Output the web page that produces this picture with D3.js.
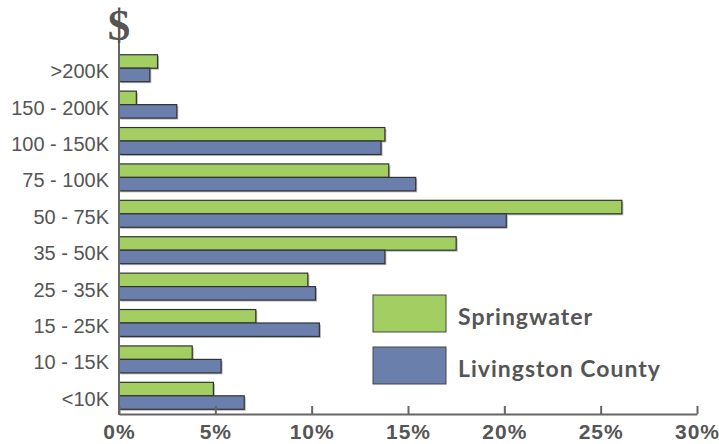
<!DOCTYPE html>
<html>
<head>
<meta charset="utf-8">
<script src="https://cdn.jsdelivr.net/npm/d3@7"></script>
<style>
  body { margin: 0; background: #fff; }
  svg { display: block; font-family: Lato, "Open Sans", sans-serif; }
  .bar { stroke: #333; stroke-width: 1.2; }
  .shadow { fill: #b5b5b5; }
  .x-axis text { font-size: 21px; font-weight: bold; fill: #555; letter-spacing: 1px; }
  .y-axis text { font-size: 20px; fill: #555; }
  .legend text { font-size: 23px; font-weight: bold; fill: #555; letter-spacing: 1px; }
</style>
</head>
<body>
<svg id="chart" width="719" height="444"></svg>
<script>
// income brackets, top to bottom
var categories = ['>200K', '150 - 200K', '100 - 150K', '75 - 100K', '50 - 75K',
                  '35 - 50K', '25 - 35K', '15 - 25K', '10 - 15K', '<10K'];
// percent of households
var springwater = [2.0, 0.9, 13.8, 14.0, 26.1, 17.5, 9.8, 7.1, 3.8, 4.9];
var livingston  = [1.6, 3.0, 13.6, 15.4, 20.1, 13.8, 10.2, 10.4, 5.3, 6.5];
var seriesNames = ['Springwater', 'Livingston County'];
var xTicks = [0, 5, 10, 15, 20, 25, 30];

var colors = { 'Springwater': '#a3cf62', 'Livingston County': '#6b7fad' };

var svg = d3.select('#chart');

var x = d3.scaleLinear().domain([0, 30]).range([119, 697]);
var y = d3.scaleBand().domain(categories).range([50, 414])
  .paddingInner(0.26).paddingOuter(0.13);
var sub = d3.scaleBand().domain(seriesNames).range([0, y.bandwidth()]);

var rows = categories.map(function(c, i) {
  return { cat: c, values: [
    { name: 'Springwater', v: springwater[i] },
    { name: 'Livingston County', v: livingston[i] }
  ]};
});

var groups = svg.selectAll('g.row')
  .data(rows)
  .enter()
  .append('g')
  .attr('class', 'row')
  .attr('transform', function(d) { return 'translate(0,' + y(d.cat) + ')'; });

// drop shadows first
groups.selectAll('rect.shadow')
  .data(function(d) { return d.values; })
  .enter()
  .append('rect')
  .attr('class', 'shadow')
  .attr('x', x(0) + 1.5)
  .attr('y', function(d) { return sub(d.name) + 1.5; })
  .attr('width', function(d) { return x(d.v) - x(0); })
  .attr('height', sub.bandwidth());

groups.selectAll('rect.bar')
  .data(function(d) { return d.values; })
  .enter()
  .append('rect')
  .attr('class', 'bar')
  .attr('x', x(0))
  .attr('y', function(d) { return sub(d.name); })
  .attr('width', function(d) { return x(d.v) - x(0); })
  .attr('height', sub.bandwidth())
  .attr('fill', function(d) { return colors[d.name]; });

// x axis, ticks pointing up
var xAxis = svg.append('g')
  .attr('class', 'x-axis')
  .attr('transform', 'translate(0,414)')
  .call(d3.axisBottom(x).tickValues(xTicks).tickSize(-8).tickSizeOuter(0)
    .tickPadding(10).tickFormat(function(d) { return d + '%'; }));
xAxis.selectAll('line').attr('stroke', '#666').attr('stroke-width', 2);
xAxis.select('.domain').attr('stroke', '#666').attr('stroke-width', 2);

// y axis labels
var yAxis = svg.append('g')
  .attr('class', 'y-axis')
  .attr('transform', 'translate(' + x(0) + ',0)')
  .call(d3.axisLeft(y).tickSize(0).tickPadding(10));
yAxis.select('.domain').remove();
yAxis.selectAll('text').attr('dy', '0.5em');

svg.append('line')
  .attr('x1', x(0)).attr('x2', x(0))
  .attr('y1', 40).attr('y2', 415)
  .attr('stroke', '#666').attr('stroke-width', 2);

svg.append('text')
  .attr('x', x(0)).attr('y', 40)
  .attr('text-anchor', 'middle')
  .style('font-family', '"Liberation Serif", "DejaVu Serif", serif')
  .style('font-weight', 'bold')
  .style('font-size', '45px')
  .attr('fill', '#555')
  .text('$');

// legend
var legend = svg.append('g').attr('class', 'legend')
  .selectAll('g')
  .data(seriesNames)
  .enter()
  .append('g')
  .attr('transform', function(d, i) { return 'translate(373,' + (295 + i * 52) + ')'; });

legend.append('rect')
  .attr('width', 73).attr('height', 37)
  .attr('fill', function(d) { return colors[d]; })
  .attr('stroke', '#444').attr('stroke-width', 1);

legend.append('text')
  .attr('x', 85).attr('y', 30)
  .text(function(d) { return d; });
</script>
</body>
</html>
